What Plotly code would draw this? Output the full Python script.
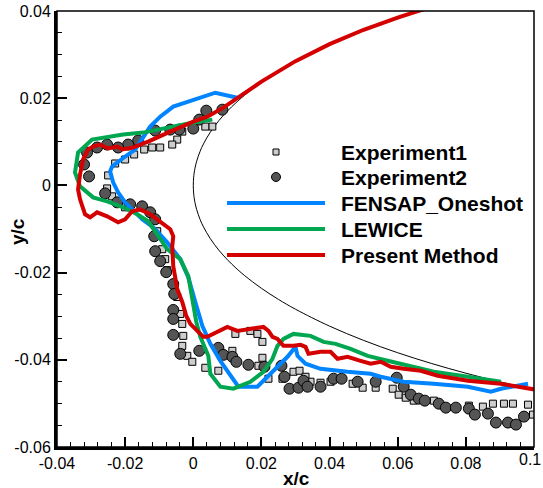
import plotly.graph_objects as go

# NACA 0012 leading-edge half-thickness table (x/c, y/c)
airfoil_x = [0.0, 0.0001, 0.00025, 0.0005, 0.001, 0.002, 0.003, 0.005, 0.0075, 0.01,
             0.0125, 0.015, 0.02, 0.025, 0.03, 0.04, 0.05, 0.06, 0.07, 0.08, 0.09,
             0.10, 0.11]
airfoil_yt = [0.0, 0.00177, 0.00280, 0.00395, 0.00556, 0.00782, 0.00953, 0.01221,
              0.01485, 0.01704, 0.01894, 0.02064, 0.02360, 0.02615, 0.02840, 0.03228,
              0.03555, 0.03838, 0.04086, 0.04307, 0.04505, 0.04683, 0.04843]

# Experiment 1 (squares)
exp1_x = [0.00559, 0.00353, -0.00324, -0.00471, -0.00618, -0.00971, -0.01206, -0.01441,
          -0.01735, -0.02, -0.02294, -0.025, -0.02529, -0.02382, -0.02206, -0.02,
          -0.01059, -0.00912, -0.00824, -0.00765, -0.00471, -0.00382, -0.00324, -0.00294,
          -0.00324, -0.00176, -0.00029, 0.00353, 0.00735, 0.01235, 0.01147, 0.01676,
          0.01882, 0.02029, 0.02029, 0.01912, 0.02206, 0.02618, 0.02941, 0.03118,
          0.03294, 0.03441, 0.03735, 0.04029, 0.04676, 0.04971, 0.05353, 0.05853,
          0.06029, 0.06235, 0.06471, 0.07059, 0.08088, 0.085, 0.08794, 0.09118,
          0.09382, 0.09824, 0.09971]
exp1_y = [0.01349, 0.01349, 0.01234, 0.01051, 0.00937, 0.00869, 0.00869, 0.00823,
          0.00709, 0.00594, 0.00503, 0.00229, -0.00069, -0.00251, -0.00389, -0.00503,
          -0.01051, -0.01463, -0.01691, -0.01943, -0.0256, -0.02949, -0.03177, -0.03451,
          -0.0368, -0.03909, -0.04046, -0.04183, -0.04251, -0.03406, -0.03794, -0.03337,
          -0.03406, -0.03589, -0.03954, -0.04137, -0.04434, -0.04434, -0.04274, -0.04251,
          -0.04389, -0.04503, -0.04526, -0.04503, -0.04549, -0.0464, -0.0464, -0.04663,
          -0.048, -0.04869, -0.04937, -0.04937, -0.05051, -0.05074, -0.05006, -0.05006,
          -0.05006, -0.05029, -0.05257]

# Experiment 2 (circles)
exp2_x = [0.00853, 0.00382, 0.00176, 0.0, -0.00412, -0.00676, -0.01118, -0.01618,
          -0.01912, -0.02206, -0.02529, -0.02824, -0.03118, -0.03206, -0.03059, -0.02588,
          -0.02235, -0.01853, -0.015, -0.01265, -0.01118, -0.01147, -0.01118, -0.00971,
          -0.00794, -0.00588, -0.00559, -0.00588, -0.00588, -0.00588, -0.00382, 0.00176,
          0.00735, 0.00882, 0.01147, 0.01265, 0.01618, 0.02088, 0.02588, 0.02676,
          0.02824, 0.03088, 0.03235, 0.03353, 0.03735, 0.04118, 0.04353, 0.04824,
          0.05353, 0.05971, 0.06176, 0.06382, 0.06618, 0.06794, 0.07206, 0.07412,
          0.07706, 0.08088, 0.08265, 0.08647, 0.08882, 0.09235, 0.09471, 0.09706]
exp2_y = [0.01737, 0.01714, 0.01509, 0.01303, 0.0128, 0.0128, 0.01257, 0.01029,
          0.00937, 0.00869, 0.00937, 0.00869, 0.00754, 0.0048, 0.00206, -0.00183,
          -0.00389, -0.00434, -0.0048, -0.00617, -0.00777, -0.01166, -0.01509, -0.01737,
          -0.01989, -0.02263, -0.02491, -0.02857, -0.03063, -0.03429, -0.03863, -0.03794,
          -0.03726, -0.03886, -0.03931, -0.04046, -0.04114, -0.0416, -0.04137, -0.04389,
          -0.04663, -0.0464, -0.0448, -0.04617, -0.04617, -0.04434, -0.04434, -0.04503,
          -0.04503, -0.04411, -0.04617, -0.048, -0.04891, -0.04937, -0.05006, -0.05097,
          -0.05097, -0.0512, -0.05257, -0.05234, -0.0544, -0.0544, -0.05486, -0.05303]

# FENSAP_Oneshot ice shape
fensap_x = [0.01294, 0.00647, -0.00588, -0.00971, -0.01265, -0.01471, -0.01706, -0.02,
            -0.02382, -0.02441, -0.02353, -0.02206, -0.02, -0.01765, -0.015, -0.01176,
            -0.00765, -0.00382, -0.00147, 0.00059, 0.00265, 0.005, 0.00794, 0.01324,
            0.01882, 0.02353, 0.02765, 0.03, 0.03059, 0.03294, 0.03735, 0.04529,
            0.05206, 0.055, 0.06176, 0.07059, 0.08059, 0.08735, 0.09029, 0.09824]
fensap_y = [0.02011, 0.02126, 0.01806, 0.01577, 0.01349, 0.01097, 0.00823, 0.00663,
            0.00434, 0.0032, 0.00069, -0.0016, -0.00389, -0.00571, -0.00777, -0.0096,
            -0.01303, -0.01691, -0.02103, -0.02674, -0.03223, -0.03634, -0.04023, -0.04617,
            -0.04617, -0.04251, -0.03931, -0.03703, -0.03909, -0.04091, -0.04206, -0.04274,
            -0.0432, -0.04389, -0.04503, -0.04549, -0.04617, -0.04731, -0.04663, -0.04549]

# LEWICE ice shape
lewice_x = [0.00559, -0.00176, -0.01471, -0.02059, -0.02971, -0.03382, -0.03471, -0.03324,
            -0.02941, -0.02529, -0.02059, -0.01647, -0.01324, -0.01118, -0.00765, -0.00382,
            -0.00147, -0.00029, 0.00088, 0.00206, 0.00441, 0.005, 0.00794, 0.01176,
            0.01676, 0.02059, 0.02324, 0.02471, 0.02647, 0.02941, 0.03441, 0.03824,
            0.04176, 0.04618, 0.05118, 0.05706, 0.06294, 0.07059, 0.08059, 0.09029]
lewice_y = [0.01509, 0.01417, 0.01211, 0.01166, 0.01051, 0.00754, 0.00297, -0.00023,
            -0.00274, -0.00366, -0.00503, -0.00663, -0.00823, -0.01051, -0.01463, -0.01691,
            -0.0208, -0.02606, -0.03131, -0.03474, -0.03909, -0.0432, -0.04617, -0.04663,
            -0.04503, -0.04274, -0.03977, -0.0368, -0.0352, -0.03406, -0.03451, -0.03589,
            -0.03634, -0.03749, -0.03909, -0.04023, -0.04137, -0.04274, -0.04389, -0.04503]

# Present method ice shape
present_x = [0.08, 0.07, 0.06, 0.05, 0.04, 0.03, 0.02, 0.01294, 0.00882, 0.00412, 0.0,
             -0.00676, -0.00971, -0.01324, -0.01559, -0.01765, -0.02088, -0.02235, -0.025,
             -0.02735, -0.02941, -0.03088, -0.03235, -0.03324, -0.03382, -0.03324, -0.03176,
             -0.03029, -0.02824, -0.02529, -0.02206, -0.02, -0.01794, -0.01559, -0.01265,
             -0.00971, -0.00676, -0.00588, -0.00618, -0.00588, -0.00471, -0.00324, -0.00206,
             -0.00088, 0.00294, 0.00412, 0.00706, 0.01, 0.01294, 0.01765, 0.02059, 0.02206,
             0.02324, 0.02471, 0.02647, 0.02941, 0.03147, 0.03294, 0.03382, 0.03735,
             0.04029, 0.04235, 0.04529, 0.04912, 0.05206, 0.055, 0.05794, 0.06176, 0.06676,
             0.07176, 0.08059, 0.09029, 0.10059]
present_y = [0.0432, 0.0410, 0.0385, 0.0357, 0.0324, 0.0285, 0.0238, 0.02011, 0.01783,
             0.01577, 0.01463, 0.01234, 0.0112, 0.01006, 0.00937, 0.00869, 0.00823, 0.00891,
             0.00846, 0.00937, 0.00891, 0.00823, 0.00594, 0.00251, -0.00091, -0.0032, -0.00663,
             -0.00731, -0.00617, -0.00709, -0.00846, -0.00777, -0.00594, -0.00549, -0.00663,
             -0.00846, -0.01006, -0.01166, -0.01394, -0.01851, -0.02377, -0.02674, -0.02994,
             -0.03177, -0.03474, -0.03474, -0.0336, -0.03246, -0.03337, -0.03291, -0.03246,
             -0.03337, -0.03474, -0.0352, -0.0368, -0.0368, -0.03657, -0.03703, -0.03863,
             -0.03817, -0.03817, -0.03977, -0.03931, -0.04023, -0.04091, -0.04046, -0.0416,
             -0.04206, -0.04251, -0.04366, -0.0448, -0.04549, -0.04686]

series_names = ["Experiment1", "Experiment2", "FENSAP_Oneshot", "LEWICE", "Present Method"]

x_ticks = [-0.04, -0.02, 0, 0.02, 0.04, 0.06, 0.08, 0.1]
x_tick_text = ["-0.04", "-0.02", "0", "0.02", "0.04", "0.06", "0.08", "0.1"]
y_ticks = [-0.06, -0.04, -0.02, 0, 0.02, 0.04]
y_tick_text = ["-0.06", "-0.04", "-0.02", "0", "0.02", "0.04"]

BLUE = "rgb(0,132,255)"
GREEN = "rgb(0,166,80)"
RED = "rgb(212,0,0)"
FONT = "Liberation Sans, Arial, sans-serif"

# closed airfoil outline: upper surface back to the nose, then the lower surface
outline_x = airfoil_x[::-1] + airfoil_x[1:]
outline_y = airfoil_yt[::-1] + [-v for v in airfoil_yt[1:]]

fig = go.Figure()
fig.add_trace(go.Scatter(x=outline_x, y=outline_y, mode="lines", line_shape="spline",
                         line=dict(color="black", width=1), showlegend=False,
                         hoverinfo="skip"))
fig.add_trace(go.Scatter(x=exp1_x, y=exp1_y, mode="markers", name=series_names[0],
                         marker=dict(symbol="square", size=7, color="rgb(205,205,205)",
                                     line=dict(color="black", width=1)),
                         showlegend=False))
fig.add_trace(go.Scatter(x=exp2_x, y=exp2_y, mode="markers", name=series_names[1],
                         marker=dict(symbol="circle", size=11, color="rgb(85,85,85)",
                                     line=dict(color="black", width=1)),
                         showlegend=False))
for xs, ys, nm, col in [(fensap_x, fensap_y, series_names[2], BLUE),
                        (lewice_x, lewice_y, series_names[3], GREEN),
                        (present_x, present_y, series_names[4], RED)]:
    fig.add_trace(go.Scatter(x=xs, y=ys, mode="lines", name=nm,
                             line=dict(color=col, width=4), showlegend=False))

# plot-area geometry in pixels
W, H = 543, 488
ML, MR, MT, MB = 57, 9, 11, 41
PW, PH = W - ML - MR, H - MT - MB


def px(xp):
    return (xp - ML) / PW


def py(yp):
    return (H - MB - yp) / PH


# hand-built legend: symbol column and bold labels
row_y = [152, 177, 203, 229, 255]
shapes = [dict(type="rect", xref="paper", yref="paper", x0=0, x1=1, y0=0, y1=1,
               line=dict(color="black", width=1.5))]
shapes.append(dict(type="rect", xref="paper", yref="paper", xsizemode="pixel",
                   ysizemode="pixel", xanchor=px(276), yanchor=py(row_y[0]),
                   x0=-3, x1=3, y0=-3, y1=3, fillcolor="rgb(205,205,205)",
                   line=dict(color="black", width=1)))
shapes.append(dict(type="circle", xref="paper", yref="paper", xsizemode="pixel",
                   ysizemode="pixel", xanchor=px(276), yanchor=py(row_y[1]),
                   x0=-4.5, x1=4.5, y0=-4.5, y1=4.5, fillcolor="rgb(85,85,85)",
                   line=dict(color="black", width=1)))
for r, col in zip(row_y[2:], [BLUE, GREEN, RED]):
    shapes.append(dict(type="line", xref="paper", yref="paper", x0=px(227), x1=px(325),
                       y0=py(r), y1=py(r), line=dict(color=col, width=4)))

annotations = []
for r, nm in zip(row_y, series_names):
    annotations.append(dict(x=px(339), y=py(r), xref="paper", yref="paper", text=nm,
                            showarrow=False, xanchor="left", yanchor="middle",
                            font=dict(family=FONT, size=21, color="black", weight="bold")))
annotations.append(dict(x=px(296), y=py(478), xref="paper", yref="paper", text="x/c",
                        showarrow=False, xanchor="center", yanchor="middle",
                        font=dict(family=FONT, size=19, color="black", weight="bold")))
annotations.append(dict(x=px(17), y=py(232), xref="paper", yref="paper", text="y/c",
                        showarrow=False, xanchor="center", yanchor="middle", textangle=-90,
                        font=dict(family=FONT, size=19, color="black", weight="bold")))

# the last x label sits at the page edge: right-align it so it stays whole
x_tick_labels = x_tick_text[:-1] + [""]
annotations.append(dict(x=px(W - 1), y=py(459), xref="paper", yref="paper",
                        text=x_tick_text[-1], showarrow=False, xanchor="right",
                        yanchor="middle", borderpad=0,
                        font=dict(family=FONT, size=16, color="black")))

axis_common = dict(showgrid=False, zeroline=False, showline=True, linecolor="black",
                   linewidth=3, ticks="inside", ticklen=10, tickwidth=1.5,
                   tickcolor="black",
                   tickfont=dict(family=FONT, size=16, color="black"))

fig.update_layout(
    width=W, height=H, margin=dict(l=ML, r=MR, t=MT, b=MB, autoexpand=False),
    paper_bgcolor="white", plot_bgcolor="white", showlegend=False,
    shapes=shapes, annotations=annotations,
    xaxis=dict(range=[-0.04, 0.1], tickvals=x_ticks, ticktext=x_tick_labels,
               minor=dict(dtick=0.004, tick0=-0.04, ticks="inside", ticklen=5,
                          tickwidth=1.2, tickcolor="black"),
               **axis_common),
    yaxis=dict(range=[-0.06, 0.04], tickvals=y_ticks, ticktext=y_tick_text,
               minor=dict(dtick=0.005, tick0=-0.06, ticks="inside", ticklen=5,
                          tickwidth=1.2, tickcolor="black"),
               **axis_common),
)

fig.write_html("out.html")
